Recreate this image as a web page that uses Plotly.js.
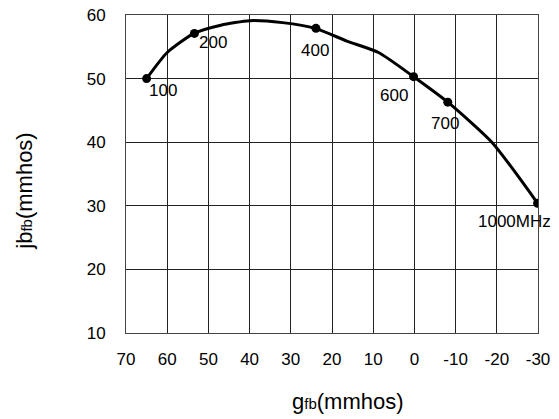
<!DOCTYPE html>
<html>
<head>
<meta charset="utf-8">
<script src="https://cdn.plot.ly/plotly-3.0.1.min.js"></script>
<style>
  html, body { margin: 0; padding: 0; background: #fff; }
  #chart { width: 559px; height: 419px; }
</style>
</head>
<body>
<div id="chart"></div>
<script>
// Forward transfer admittance locus (gfb vs jbfb) versus frequency
const curveG  = [65, 60, 53.5, 47, 40, 32, 24, 16.4, 8.7, 0.2, -8.1, -18.8, -29.9];
const curveB  = [50, 54.1, 57.1, 58.4, 59.1, 58.8, 57.9, 55.9, 54.1, 50.3, 46.3, 40, 30.4];

// Marked frequency points
const freqLabels = ['100', '200', '400', '600', '700', '1000MHz'];
const markG = [65, 53.4, 23.9, 0.2, -8.1, -29.9];
const markB = [50, 57.1, 57.9, 50.3, 46.3, 30.4];

// Axis ticks
const xTicks = [70, 60, 50, 40, 30, 20, 10, 0, -10, -20, -30];
const yTicks = [10, 20, 30, 40, 50, 60];

// Label offsets (px) relative to each marked point
const labelShift = [[16, -12], [19, -9], [-1, -22], [-20, -19], [-3, -21], [-23, -18]];

const FONT = 'Liberation Sans, Arial, sans-serif';

const traces = [
  {
    x: curveG, y: curveB, type: 'scatter', mode: 'lines',
    line: { color: '#000', width: 3, shape: 'spline', smoothing: 0.6 },
    hoverinfo: 'skip'
  },
  {
    x: markG, y: markB, type: 'scatter', mode: 'markers',
    marker: { color: '#000', size: 9, symbol: 'circle' }
  }
];

const annotations = freqLabels.map((t, i) => ({
  x: markG[i], y: markB[i], xref: 'x', yref: 'y',
  text: t, showarrow: false,
  xshift: labelShift[i][0], yshift: labelShift[i][1],
  font: { family: FONT, size: 17, color: '#000' }
}));

annotations.push({
  xref: 'paper', yref: 'paper', x: 0.538, y: -0.215, yanchor: 'middle',
  text: 'g<span style="font-size:15px">fb</span>(mmhos)', showarrow: false,
  font: { family: FONT, size: 22, color: '#000' }
});
annotations.push({
  xref: 'paper', yref: 'paper', x: -0.247, y: 0.445, xanchor: 'center', yanchor: 'middle',
  text: 'jb<span style="font-size:15px">fb</span>(mmhos)', showarrow: false, textangle: -90,
  font: { family: FONT, size: 22, color: '#000' }
});

const layout = {
  width: 559, height: 419,
  margin: { l: 126, r: 21, t: 15, b: 85.5 },
  paper_bgcolor: '#fff', plot_bgcolor: '#fff',
  showlegend: false,
  font: { family: FONT, size: 17, color: '#000' },
  xaxis: {
    range: [70, -30], tickvals: xTicks, ticktext: xTicks.map(String),
    showgrid: true, gridcolor: '#222', gridwidth: 1,
    showline: true, mirror: true, linecolor: '#444', linewidth: 1,
    zeroline: false, ticks: '', ticklabelstandoff: 11,
    tickfont: { family: FONT, size: 17, color: '#000' }
  },
  yaxis: {
    range: [10, 60], tickvals: yTicks, ticktext: yTicks.map(String),
    showgrid: true, gridcolor: '#222', gridwidth: 1,
    showline: true, mirror: true, linecolor: '#444', linewidth: 1,
    zeroline: false, ticks: '', ticklabelstandoff: 16,
    tickfont: { family: FONT, size: 17, color: '#000' }
  },
  annotations: annotations
};

Plotly.newPlot('chart', traces, layout, { displayModeBar: false, staticPlot: true });
</script>
</body>
</html>
